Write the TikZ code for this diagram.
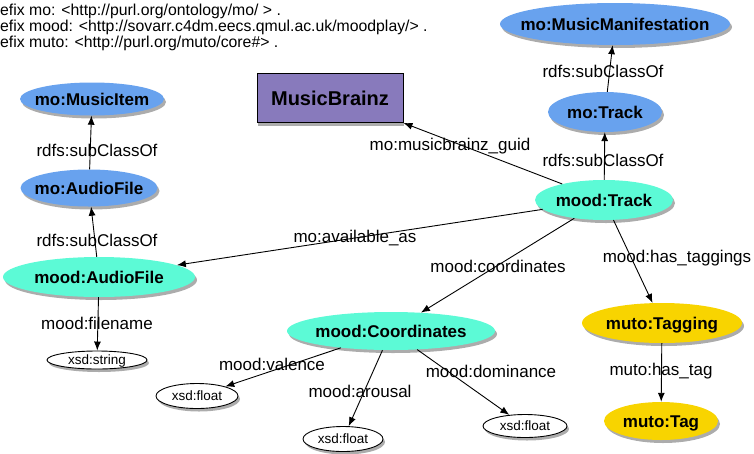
\documentclass[tikz,border=0pt]{standalone}
\usepackage{fontspec}
\setmainfont{Liberation Sans}
\usepackage{xcolor}
\usepackage{tikz}
\usetikzlibrary{arrows.meta, shapes.geometric, shadows}

\definecolor{moblue}{RGB}{104,162,238}
\definecolor{moodcyan}{RGB}{92,250,214}
\definecolor{mutoyellow}{RGB}{248,212,0}
\definecolor{mbpurple}{RGB}{136,122,188}

\begin{document}
\begin{tikzpicture}[x=1pt, y=-1pt,
  cls/.style={ellipse, inner sep=0pt, text height=12pt, text depth=0pt,
    font=\fontsize{17}{20}\selectfont\bfseries,
    execute at begin node={\hbox to 0pt\bgroup\hss}, execute at end node={\hss\egroup},
    drop shadow={shadow xshift=2pt, shadow yshift=-3pt, opacity=0.65}},
  mo/.style={cls, fill=moblue},
  mood/.style={cls, fill=moodcyan},
  muto/.style={cls, fill=mutoyellow},
  lit/.style={cls, draw=black, line width=0.9pt, fill=white, text height=9.5pt,
    font=\fontsize{13.5}{16}\selectfont},
  prop/.style={font=\fontsize{17}{20}\selectfont, inner sep=0pt},
  arrow/.style={-{Latex[length=9pt, width=7pt]}, line width=0.9pt, black},
]
  \useasboundingbox (0,0) rectangle (754,453);

  % prefixes
  \node[anchor=north west, align=left, inner sep=0pt, font=\fontsize{15.8}{16}\selectfont] (prefix) at (0,4)
    {efix mo: <http://purl.org/ontology/mo/ > .\\
     efix mood: <http://sovarr.c4dm.eecs.qmul.ac.uk/moodplay/> .\\
     efix muto: <http://purl.org/muto/core\#> .};

  % classes
  \node[mo, minimum width=230, minimum height=42] (manif)   at (615,24)  {mo:MusicManifestation};
  \node[mo, minimum width=114, minimum height=40] (motrack) at (605,112) {mo:Track};
  \node[mood, minimum width=138, minimum height=40] (track) at (604,200) {mood:Track};
  \node[mo, minimum width=144, minimum height=33] (item)    at (92,99)   {mo:MusicItem};
  \node[mo, minimum width=137, minimum height=37] (moaf)    at (89,188)  {mo:AudioFile};
  \node[mood, minimum width=192, minimum height=40] (audio) at (99,277)  {mood:AudioFile};
  \node[mood, minimum width=208, minimum height=38] (coord) at (391,331) {mood:Coordinates};
  \node[muto, minimum width=160, minimum height=40] (tagging) at (662,323) {muto:Tagging};
  \node[muto, minimum width=114, minimum height=38] (tag)     at (661,421) {muto:Tag};

  \node[draw=black, line width=0.9pt, fill=mbpurple, minimum width=146, minimum height=49,
    font=\fontsize{20}{24}\selectfont\bfseries,
    drop shadow={shadow xshift=1pt, shadow yshift=-3pt, opacity=0.65}] (mb) at (330,98) {MusicBrainz};

  % literals
  \node[lit, minimum width=100, minimum height=18] (str)  at (97,360)  {xsd:string};
  \node[lit, minimum width=82, minimum height=25]  (fval) at (197,396) {xsd:float};
  \node[lit, minimum width=80, minimum height=25]  (faro) at (343,439) {xsd:float};
  \node[lit, minimum width=84, minimum height=23]  (fdom) at (525,426) {xsd:float};

  % properties
  \draw[arrow] (motrack) -- (manif);
  \draw[arrow] (track) -- (motrack);
  \draw[arrow] (moaf) -- (item);
  \draw[arrow] (audio) -- (moaf);
  \draw[arrow] (track) -- (mb.south east);
  \draw[arrow] (track) -- (audio);
  \draw[arrow] (track) -- (coord);
  \draw[arrow] (track) -- (tagging);
  \draw[arrow] (tagging) -- (tag);
  \draw[arrow] (audio) -- (str);
  \foreach \f in {fval, faro, fdom}
    \draw[arrow] (coord) -- (\f);

  \node[prop] (lsub1)  at (603,71)  {rdfs:subClassOf};
  \node[prop] (lsub2)  at (603,160) {rdfs:subClassOf};
  \node[prop] (lsub3)  at (97,150)  {rdfs:subClassOf};
  \node[prop] (lsub4)  at (97,240)  {rdfs:subClassOf};
  \node[prop] (lguid)  at (450,146) {mo:musicbrainz\_guid};
  \node[prop] (lavail) at (355,238) {mo:available\_as};
  \node[prop] (lcoord) at (498,266) {mood:coordinates};
  \node[prop] (ltagg)  at (677,258) {mood:has\_taggings};
  \node[prop] (lhas)   at (661,371) {muto:has\_tag};
  \node[prop] (lfile)  at (97,323)  {mood:filename};
  \node[prop] (lval)   at (272,364) {mood:valence};
  \node[prop] (laro)   at (360,391) {mood:arousal};
  \node[prop] (ldom)   at (491,371) {mood:dominance};
\end{tikzpicture}
\end{document}
